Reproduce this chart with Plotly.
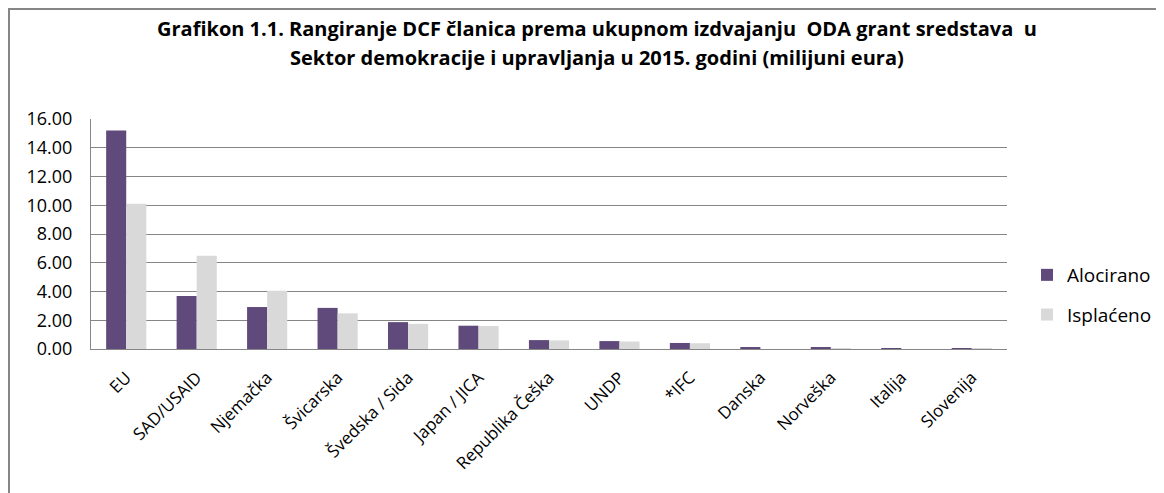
import plotly.graph_objects as go

categories = ["EU", "SAD/USAID", "Njemačka", "Švicarska", "Švedska / Sida", "Japan / JICA",
              "Republika Češka", "UNDP", "*IFC", "Danska", "Norveška", "Italija", "Slovenija"]
alocirano = [15.2, 3.68, 2.92, 2.86, 1.87, 1.62, 0.62, 0.55, 0.42, 0.09, 0.09, 0.05, 0.02]
isplaceno = [10.1, 6.48, 4.05, 2.48, 1.75, 1.60, 0.60, 0.52, 0.40, 0.0, 0.04, 0.0, 0.01]
y_ticks = [0, 2, 4, 6, 8, 10, 12, 14, 16]
title_lines = ["Grafikon 1.1. Rangiranje DCF članica prema ukupnom izdvajanju  ODA grant sredstava  u",
               "Sektor demokracije i upravljanja u 2015. godini (milijuni eura)"]

FONT = "'Open Sans', sans-serif"
OFF = 8  # page body margin

fig = go.Figure()
fig.add_trace(go.Bar(name="Alocirano", x=categories, y=alocirano, marker_color="#604a7b",
                     marker_line_width=0, legendgroup="a"))
fig.add_trace(go.Bar(name="Isplaćeno", x=categories, y=isplaceno, marker_color="#d9d9d9",
                     marker_line_width=0, legendgroup="b"))

W, H = 1164 - OFF, 493 - OFF
L = 91 - OFF
R = W - (1007 - OFF)
T = 119 - OFF
B = H - (349 - OFF)
pw, ph = W - L - R, H - T - B

def px(x):
    return (x - OFF - L) / pw

def py(y):
    return (H - B - (y - OFF)) / ph

annotations = [
    dict(text=t, xref="paper", yref="paper", x=px(597), y=py(yy), xanchor="center",
         yanchor="middle", showarrow=False,
         font=dict(family=FONT, size=20, color="black", weight="bold"))
    for t, yy in zip(title_lines, [28, 57])
]

fig.update_layout(
    width=W, height=H,
    margin=dict(l=L, r=R, t=T, b=B, autoexpand=False),
    paper_bgcolor="white", plot_bgcolor="white",
    barmode="group", bargap=0.43, bargroupgap=0,
    font=dict(family=FONT, color="black", size=16),
    annotations=annotations,
    legend=dict(x=px(1027), xanchor="left", y=py(295), yanchor="middle",
                font=dict(size=19, family=FONT), tracegroupgap=12, traceorder="grouped",
                itemwidth=30, bgcolor="rgba(0,0,0,0)"),
    xaxis=dict(tickangle=-45, showline=True, linecolor="#868686", linewidth=1,
               ticks="", tickfont=dict(size=17), ticklabelstandoff=11),
    yaxis=dict(range=[0, 16], tickvals=y_ticks, tickformat=".2f", showgrid=True,
               gridcolor="#868686", gridwidth=1, showline=True, linecolor="#868686",
               linewidth=1, ticks="", zeroline=False, tickfont=dict(size=18),
               ticklabelstandoff=14),
    shapes=[dict(type="rect", xref="paper", yref="paper",
                 x0=px(OFF + 1), x1=px(1400), y0=py(600), y1=py(OFF + 1),
                 line=dict(color="#868686", width=2), fillcolor="rgba(0,0,0,0)", layer="below")],
)

fig.write_html("out.html")
